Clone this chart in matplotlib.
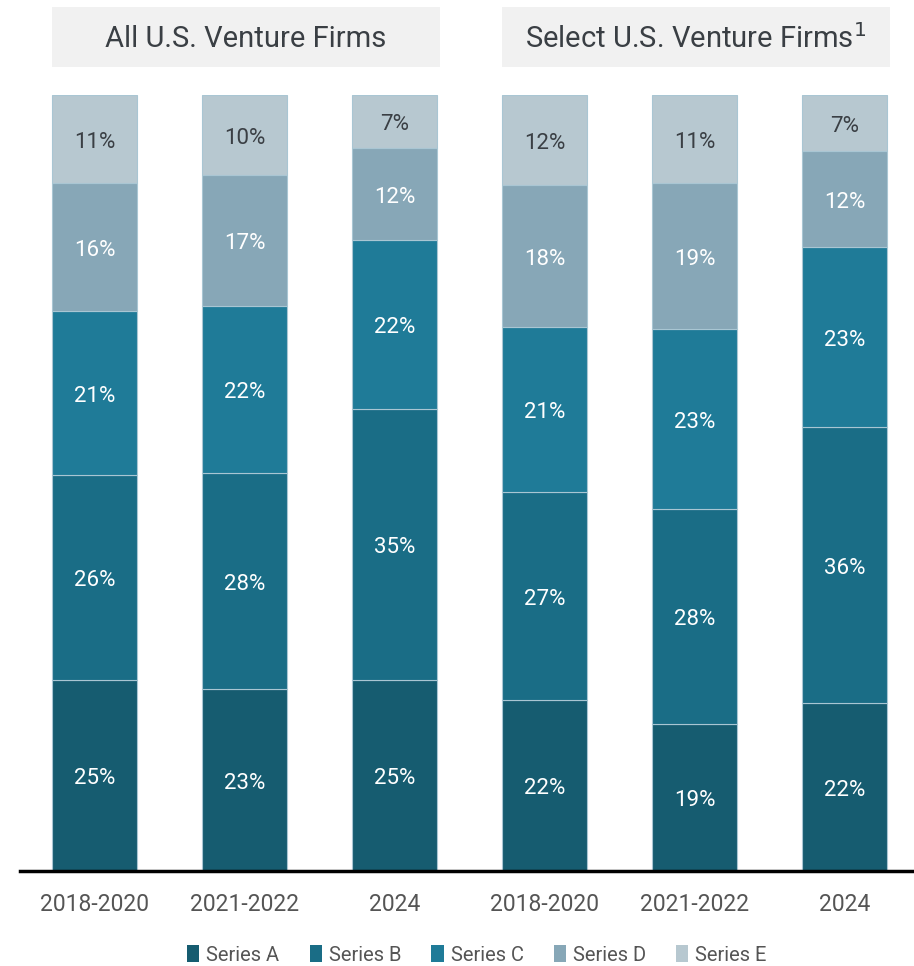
import matplotlib.pyplot as plt
from matplotlib.patches import Rectangle, Patch

plt.rcParams['font.family'] = ['Roboto', 'DejaVu Sans']

groups = ['All U.S. Venture Firms', 'Select U.S. Venture Firms$^1$']
periods = ['2018-2020', '2021-2022', '2024', '2018-2020', '2021-2022', '2024']
series = ['Series A', 'Series B', 'Series C', 'Series D', 'Series E']

# share of deals (%) per period
series_a = [24.6, 23.4, 24.6, 22.1, 18.9, 21.6]
series_b = [26.4, 27.9, 34.9, 26.7, 27.7, 35.6]
series_c = [21.2, 21.5, 21.8, 21.3, 23.2, 23.2]
series_d = [16.4, 16.9, 11.9, 18.3, 18.8, 12.4]
series_e = [11.4, 10.3, 6.8, 11.6, 11.4, 7.2]
values = [series_a, series_b, series_c, series_d, series_e]

colors = ['#165c70', '#1a6d86', '#1f7b98', '#87a7b7', '#b7c8d0']
label_colors = ['white', 'white', 'white', 'white', '#3a3f44']

fig = plt.figure(figsize=(9.14, 9.66), dpi=100)
ax = fig.add_axes([20 / 914, 1 - 871 / 966, 1 - 20 / 914, (871 - 95) / 966])

x = list(range(len(periods)))
bottom = [0] * len(periods)
for vals, col, lcol in zip(values, colors, label_colors):
    ax.bar(x, vals, bottom=bottom, width=85 / 150, color=col,
           edgecolor='#a9c6d3', linewidth=0.8)
    for xi, v, b in zip(x, vals, bottom):
        ax.text(xi, b + v / 2 - 0.4, f'{round(v)}%', ha='center', va='center',
                color=lcol, fontsize=16)
    bottom = [b + v for b, v in zip(bottom, vals)]

ax.set_xlim(-0.497, 5.463)
ax.set_ylim(0, 100)
ax.set_yticks([])
ax.set_xticks(x)
ax.set_xticklabels(periods, fontsize=16.5, color='#555555')
ax.tick_params(axis='x', length=0, pad=16)
for s in ['top', 'right', 'left']:
    ax.spines[s].set_visible(False)
ax.spines['bottom'].set_linewidth(2.5)
ax.spines['bottom'].set_color('black')

# header boxes
for left, title in zip([52, 502], groups):
    fig.patches.append(Rectangle((left / 914, 1 - 67 / 966), 388 / 914, 60 / 966,
                                 transform=fig.transFigure, facecolor='#f1f1f1',
                                 edgecolor='none'))
    fig.text((left + 194) / 914, 1 - 39 / 966, title, ha='center', va='center',
             fontsize=21, color='#3a3f44')

handles = [Patch(facecolor=c, edgecolor='none') for c in colors]
fig.legend(handles, series, loc='center', bbox_to_anchor=(477 / 914, 1 - 955 / 966),
           ncol=5, frameon=False, fontsize=14.5, handlelength=0.6, handleheight=0.9,
           handletextpad=0.35, columnspacing=1.5, labelcolor='#555555')

fig.savefig('out.png', dpi=100)
